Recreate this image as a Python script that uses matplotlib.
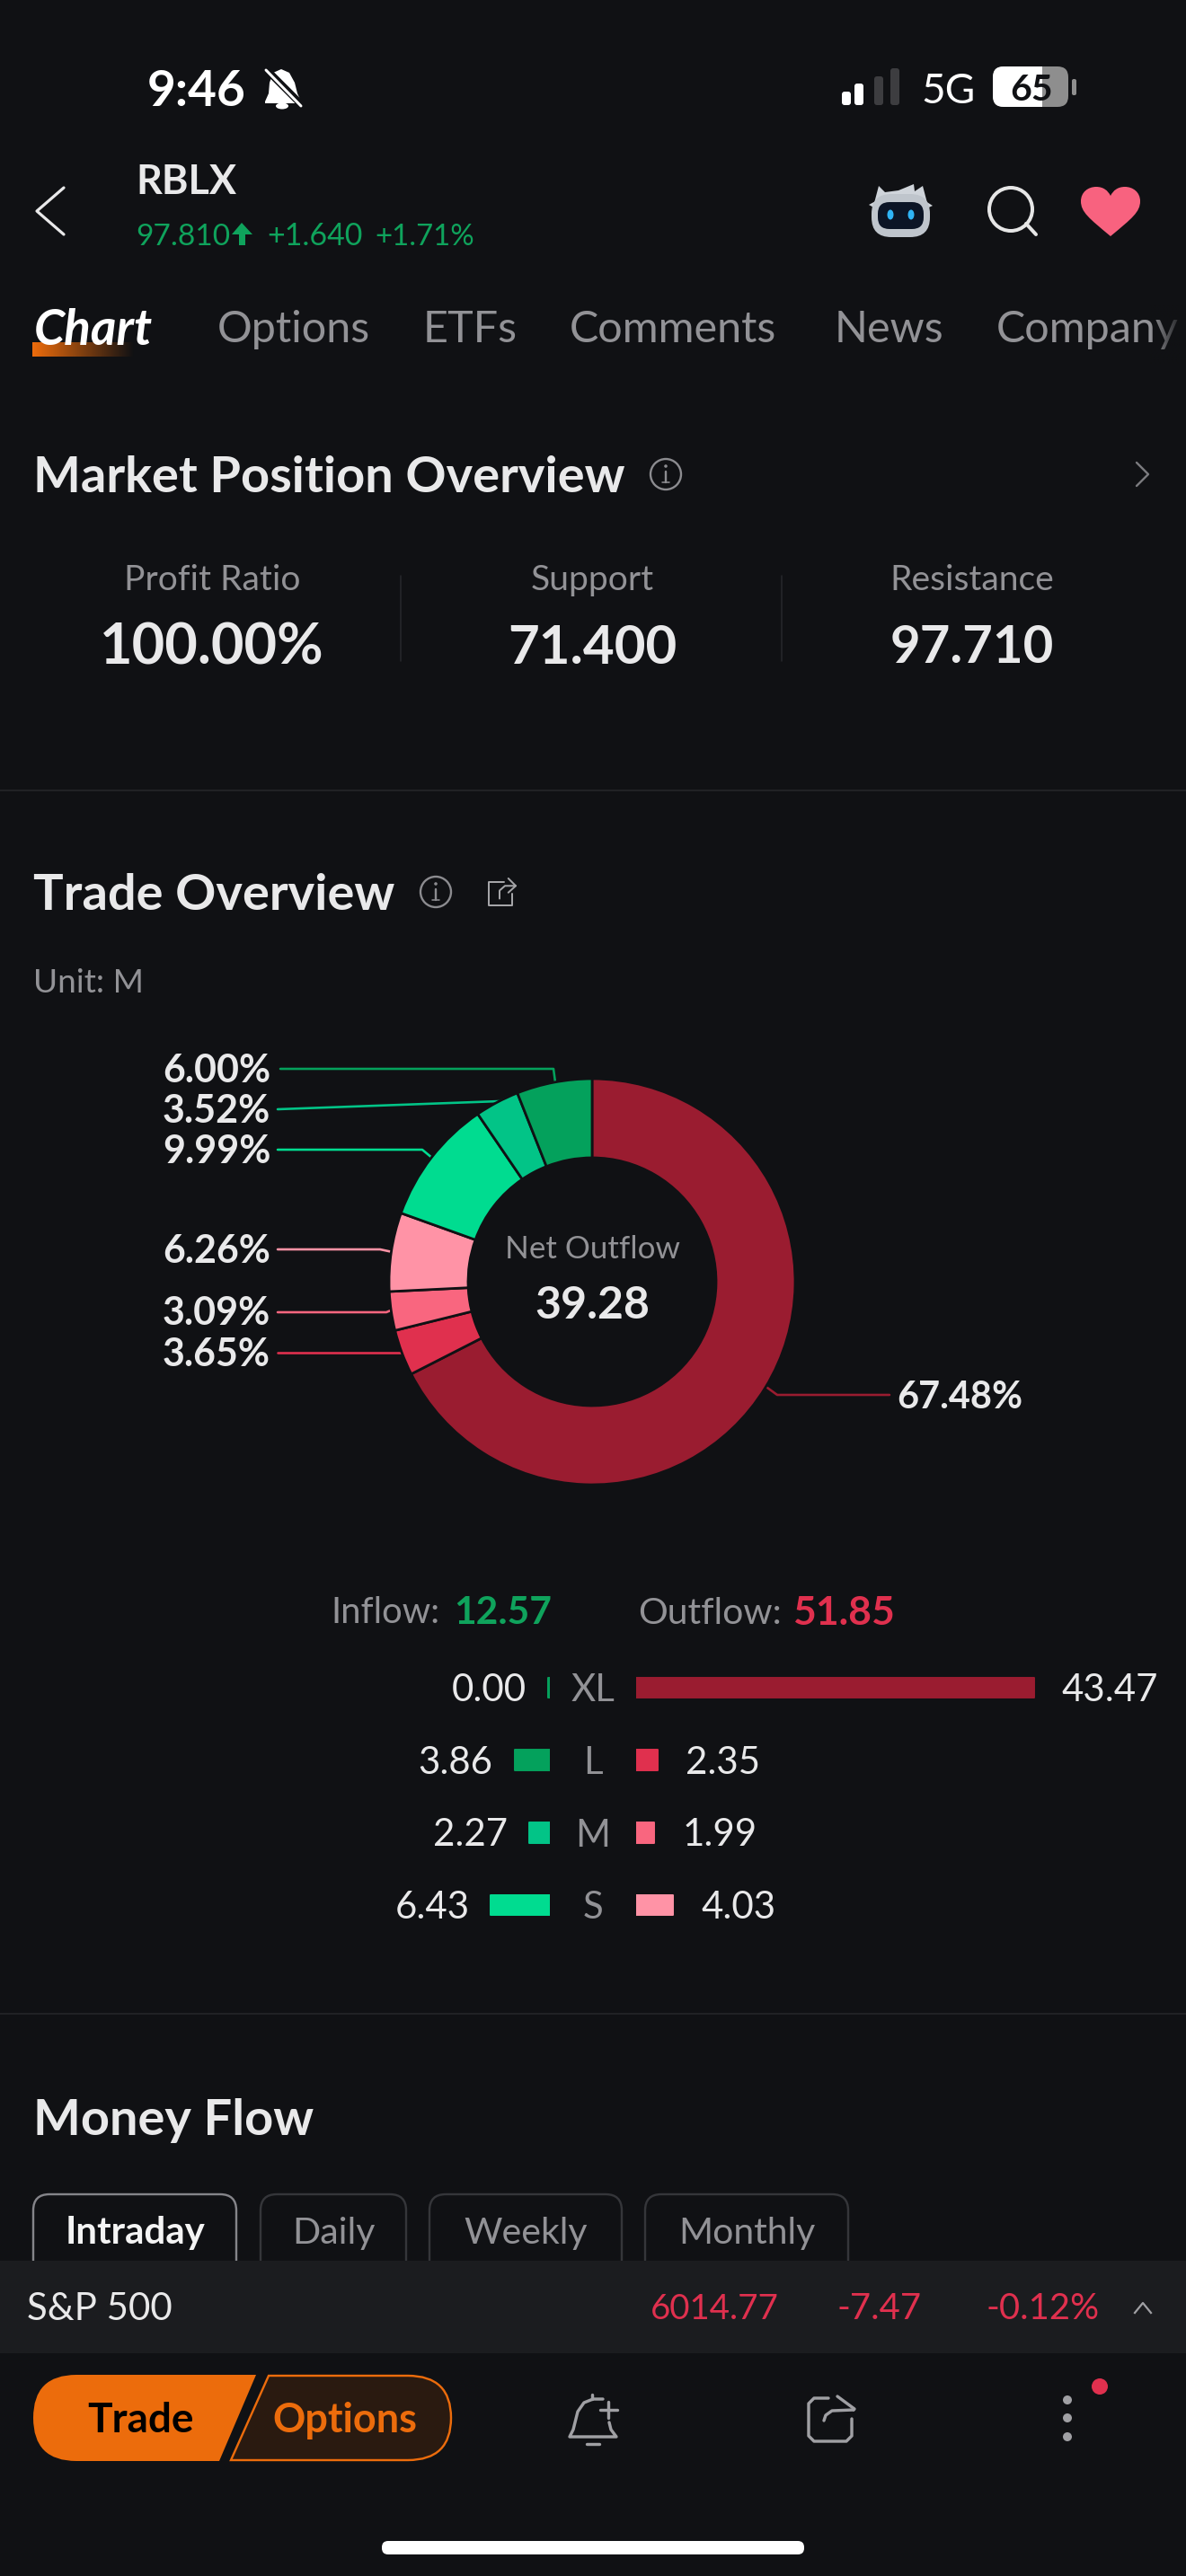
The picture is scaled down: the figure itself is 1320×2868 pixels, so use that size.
#!/usr/bin/env python
#
import numpy as np
import matplotlib
matplotlib.use('Agg')
import matplotlib.pyplot as plt
from matplotlib.patches import Circle, Ellipse, FancyBboxPatch, Polygon, PathPatch, Rectangle
from matplotlib.path import Path
from matplotlib.colors import to_rgb

plt.rcParams['font.family'] = ['Lato', 'DejaVu Sans']

W, H = 1320, 2868
BG = '#101114'
WHITE = '#e9e9ea'
GRAY = '#929296'
GREEN = '#0fa35c'
RED = '#e0304e'
ORANGE = '#ec6c0c'

#
# data
pie_pct = [67.48, 3.65, 3.09, 6.26, 9.99, 3.52, 6.00]
pie_labels = ['67.48%', '3.65%', '3.09%', '6.26%', '9.99%', '3.52%', '6.00%']
pie_colors = ['#9a1c30', '#e0304e', '#f9667f', '#ff93a6', '#00dc90', '#02c487', '#04a15c']
net_outflow = '39.28'
inflow_total = '12.57'
outflow_total = '51.85'
sizes = ['XL', 'L', 'M', 'S']
inflow = [0.00, 3.86, 2.27, 6.43]
outflow = [43.47, 2.35, 1.99, 4.03]
inflow_colors = ['#04a15c', '#04a15c', '#02c487', '#00dc90']
outflow_colors = ['#9a1c30', '#e0304e', '#f9667f', '#ff93a6']
kpi_names = ['Profit Ratio', 'Support', 'Resistance']
kpi_values = ['100.00%', '71.400', '97.710']
tabs = ['Options', 'ETFs', 'Comments', 'News', 'Company']
flow_tabs = ['Intraday', 'Daily', 'Weekly', 'Monthly']

fig = plt.figure(figsize=(W/100.0, H/100.0), dpi=100, facecolor=BG)
ax = fig.add_axes([0, 0, 1, 1])
ax.set_xlim(0, W)
ax.set_ylim(H, 0)
ax.axis('off')


def px_axes(x0, y0, x1, y1):
    a = fig.add_axes([x0/W, 1-y1/H, (x1-x0)/W, (y1-y0)/H])
    a.axis('off')
    return a


def put(x, y, s, size, color=WHITE, ha='left', weight='normal', style='normal', zorder=5):
    # y is the middle of the capitals, size is in pixels
    return ax.text(x, y+0.36*size, s, fontsize=size*0.72, color=color, ha=ha, va='baseline',
                   fontweight=weight, fontstyle=style, zorder=zorder)


def line(xs, ys, color, lw=2.0, zorder=3):
    ax.plot(xs, ys, color=color, lw=lw*0.72, solid_capstyle='round', solid_joinstyle='round', zorder=zorder)


def rbox(x0, y0, x1, y1, r, fc, ec='none', lw=0, zorder=2):
    p = FancyBboxPatch((x0+r, y0+r), x1-x0-2*r, y1-y0-2*r, boxstyle='round,pad=%g'%r,
                       fc=fc, ec=ec, lw=lw*0.72, zorder=zorder)
    ax.add_patch(p)
    return p


def fade(x0, x1, y0, y1, color, a0, a1, zorder=6):
    img = np.zeros((1, 64, 4))
    img[..., :3] = to_rgb(color)
    img[..., 3] = np.linspace(a0, a1, 64)
    ax.imshow(img, extent=[x0, x1, y1, y0], aspect='auto', zorder=zorder)
    ax.set_xlim(0, W)
    ax.set_ylim(H, 0)


def info_icon(x, y):
    c = '#8c8c90'
    ax.add_patch(Circle((x, y), 17, fc='none', ec=c, lw=1.7, zorder=3))
    line([x, x], [y-3, y+9], c, 2.4)
    line([x-4, x+4], [y+9, y+9], c, 1.6)
    ax.add_patch(Circle((x, y-9), 1.8, fc=c, ec='none', zorder=3))


def share_small(x, y, s, color, lw):
    line([x+0.1*s, x-s, x-s, x+s*0.75, x+s*0.75], [y-0.75*s, y-0.75*s, y+s, y+s, y+0.1*s], color, lw)
    line([x-0.2*s, x-0.2*s, x+0.2*s, x+s], [y+0.5*s, y-0.1*s, y-0.45*s, y-0.45*s], color, lw)
    line([x+0.45*s, x+s, x+0.45*s], [y-s, y-0.45*s, y+0.05*s], color, lw)


#
# status bar
put(164, 98, '9:46', 55, '#ffffff', weight='bold')
ax.add_patch(Polygon([(313, 77), (304, 81), (300, 92), (299, 104), (295, 113), (295, 115), (335, 115), (335, 113),
                      (331, 104), (328, 92), (322, 81)], fc='#ffffff', ec='none', zorder=3))
ax.add_patch(Ellipse((314, 118), 14, 7, fc='#ffffff', ec='none', zorder=3))
line([293, 338], [74, 119], BG, 8, zorder=4)
line([296, 335], [78, 118], '#ffffff', 3, zorder=5)
for x0, y0, c in [(937, 102, '#ffffff'), (951, 93, '#ffffff'), (973, 85, '#3d3d40'), (991, 76, '#3d3d40')]:
    rbox(x0, y0, x0+10, 117, 3, c, zorder=3)
put(1025, 98, '5G', 46, '#ffffff')
rbox(1105, 74, 1189, 119, 12, '#8e8e8e', zorder=3)
rbox(1105, 74, 1172, 119, 12, '#ffffff', zorder=3)
ax.add_patch(Rectangle((1150, 74), 10, 45, fc='#ffffff', ec='none', zorder=3))
ax.add_patch(Rectangle((1160, 74), 14, 45, fc='#8e8e8e', ec='none', zorder=3))
rbox(1193, 88, 1198, 106, 2, '#8e8e8e', zorder=3)
put(1148, 97, '65', 41, '#101114', ha='center', weight='bold')

#
# header
line([71, 41, 71], [209, 235, 261], WHITE, 3.2)
put(151, 200, 'RBLX', 45, WHITE, weight='bold')
put(151, 261, '97.810', 33.5, GREEN)
ax.add_patch(Polygon([(258, 261), (269, 248), (281, 261), (273, 261), (273, 273), (266, 273), (266, 261)],
                     fc=GREEN, ec='none', zorder=3))
put(297, 261, '+1.640', 34, GREEN)
put(417, 261, '+1.71%', 33, GREEN)

#
# robot
ax.add_patch(Polygon([(973, 226), (978, 207), (985, 214), (1000, 212), (1017, 205), (1018, 213), (1027, 207),
                      (1032, 226)], fc='#cfd4da', ec='none', zorder=3))
ax.add_patch(Polygon([(967, 228), (978, 222), (978, 234)], fc='#cfd4da', ec='none', zorder=3))
ax.add_patch(Polygon([(1038, 229), (1027, 222), (1027, 234)], fc='#cfd4da', ec='none', zorder=3))
rbox(970, 216, 1035, 264, 22, '#bfc5cc', zorder=3)
rbox(977, 225, 1028, 255, 13, '#0c1526', zorder=4)
ax.add_patch(Ellipse((991, 239), 7, 11, fc='#2fb4f6', ec='none', zorder=5))
ax.add_patch(Ellipse((1014, 239), 7, 11, fc='#2fb4f6', ec='none', zorder=5))

#
# search, heart
ax.add_patch(Circle((1125, 233), 24, fc='none', ec='#e6e6e6', lw=4*0.72, zorder=3))
line([1142, 1153], [249, 261], '#e6e6e6', 4)
heart = Path([(1236, 263),
              (1212, 243), (1203, 236), (1203, 224),
              (1203, 214), (1211, 208), (1220, 208),
              (1228, 208), (1233, 212), (1236, 218),
              (1239, 212), (1244, 208), (1252, 208),
              (1261, 208), (1269, 214), (1269, 224),
              (1269, 236), (1260, 243), (1236, 263)],
             [Path.MOVETO] + [Path.CURVE4]*18)
ax.add_patch(PathPatch(heart, fc='#f8627f', ec='none', zorder=3))

#
# tabs
fade(36, 150, 381, 397, ORANGE, 1.0, 0.0, zorder=2)
put(38, 364, 'Chart', 55, '#ffffff', weight='bold', style='italic')
for name, x in zip(tabs, [242, 471, 634, 929, 1109]):
    put(x, 364, name, 48.5, GRAY)
fade(1280, 1320, 340, 405, BG, 0.0, 1.0)

#
# market position overview
put(37, 528, 'Market Position Overview', 56, WHITE, weight='bold')
info_icon(741, 528)
line([1265, 1278, 1265], [515, 528, 541], '#7b7b7f', 2.4)
for name, value, x, vsize in zip(kpi_names, kpi_values, [236, 659, 1082], [63, 60, 58]):
    put(x, 643, name, 39, GRAY, ha='center')
    put(x, 717, value, vsize, WHITE, ha='center', weight='bold')
for x in [446, 870]:
    line([x, x], [641, 736], '#26272b', 1.6)
line([0, W], [880, 880], '#232428', 1.8)

#
# trade overview
put(37, 993, 'Trade Overview', 56, WHITE, weight='bold')
info_icon(485, 993)
share_small(559, 993, 15, '#a5a5a8', 2.0)
put(37, 1092, 'Unit: M', 37, GRAY)

#
# donut
ax_pie = px_axes(659-226, 1427-226, 659+226, 1427+226)
ax_pie.pie(pie_pct, colors=pie_colors, startangle=90, counterclock=False, radius=1.0,
           wedgeprops=dict(width=1-138.0/226, edgecolor=BG, linewidth=2.0))
ax_pie.set_xlim(-1, 1)
ax_pie.set_ylim(-1, 1)
ax_pie.set_aspect('auto')

leaders = {
    '6.00%': ([312, 616, 618], [1190, 1190, 1205], 181, 1190),
    '3.52%': ([309, 556, 577], [1235, 1226, 1217], 181, 1235),
    '9.99%': ([309, 470, 482], [1280, 1280, 1290], 181, 1280),
    '6.26%': ([309, 423, 437], [1391, 1391, 1394], 181, 1391),
    '3.09%': ([309, 430, 437], [1461, 1461, 1458], 181, 1460),
    '3.65%': ([309, 449], [1506, 1506], 181, 1506),
    '67.48%': ([854, 865, 990], [1545, 1553, 1553], 998, 1553),
}
for label, color in zip(pie_labels, pie_colors):
    xs, ys, tx, ty = leaders[label]
    line(xs, ys, color, 2.6)
    put(tx, ty, label, 41.5 if label == '67.48%' else 43, WHITE, weight='bold')
put(659, 1388, 'Net Outflow', 35, GRAY, ha='center')
put(659, 1450, net_outflow, 50, WHITE, ha='center', weight='bold')

#
# inflow / outflow totals
put(368, 1793, 'Inflow:', 40, GRAY)
put(505, 1793, inflow_total, 42.5, GREEN, weight='bold')
put(710, 1793, 'Outflow:', 41, GRAY)
put(882, 1793, outflow_total, 44.5, RED, weight='bold')

#
# bars, 10.19 pixels per unit on both sides
row_h = 80.7
row_top = 1879-row_h/2
row_bottom = 2121+row_h/2
px_per_unit = 10.19
y_pos = np.arange(len(sizes))

ax_in = px_axes(0, row_top, 612, row_bottom)
ax_in.set_xlim(612/px_per_unit, 0)
ax_in.set_ylim(len(sizes)-0.5, -0.5)
bars_in = ax_in.barh(y_pos, np.maximum(inflow, 0.2), height=0.28, color=inflow_colors, edgecolor=inflow_colors, linewidth=1.4)

ax_out = px_axes(708, row_top, W, row_bottom)
ax_out.set_xlim(0, (W-708)/px_per_unit)
ax_out.set_ylim(len(sizes)-0.5, -0.5)
bars_out = ax_out.barh(y_pos, outflow, height=0.28, color=outflow_colors, edgecolor=outflow_colors, linewidth=1.4)
for p in list(bars_in)+list(bars_out):
    p.set_joinstyle('round')

value_px = 42
for i in y_pos:
    ax_in.annotate('%.2f'%inflow[i], (max(inflow[i], 0.2), i), xytext=(-24*0.72, -0.36*value_px*0.72),
                   textcoords='offset points', ha='right', va='baseline', fontsize=value_px*0.72, color=WHITE)
    ax_out.annotate('%.2f'%outflow[i], (outflow[i], i), xytext=(31*0.72, -0.36*value_px*0.72),
                    textcoords='offset points', ha='left', va='baseline', fontsize=value_px*0.72, color=WHITE)
    put(660, row_top+row_h*(i+0.5), sizes[i], value_px, GRAY, ha='center')

line([0, W], [2242, 2242], '#232428', 1.8)

#
# money flow
put(37, 2357, 'Money Flow', 56, WHITE, weight='bold')
buttons = [(37, 263), (290, 452), (478, 692), (718, 944)]
for k in range(len(flow_tabs)):
    x0, x1 = buttons[k]
    rbox(x0, 2443, x1, 2535, 18, BG, ec='#85858a' if k == 0 else '#35363a', lw=2.4)
    if k == 0:
        put((x0+x1)/2.0, 2483, flow_tabs[k], 42, '#f4f4f4', ha='center', weight='bold')
    else:
        put((x0+x1)/2.0, 2483, flow_tabs[k], 41, GRAY, ha='center')

#
# index strip
rbox(-30, 2517, W+30, 2700, 24, '#1b1c1f', zorder=6)
ax.add_patch(Rectangle((0, 2620), W, 248, fc=BG, ec='none', zorder=7))
put(30, 2568, 'S&P 500', 42, WHITE, zorder=8)
put(724, 2568, '6014.77', 38.5, RED, zorder=8)
put(932, 2568, '-7.47', 40, RED, zorder=8)
put(1097, 2568, '-0.12%', 40, RED, zorder=8)
ax.plot([1263, 1272, 1281], [2575, 2564, 2575], color='#a0a0a4', lw=1.6, zorder=8)

#
# bottom bar
trade = Path([(285, 2644), (85, 2644), (37, 2644), (37, 2692), (37, 2740), (85, 2740), (244, 2740), (285, 2644)],
             [Path.MOVETO, Path.LINETO, Path.CURVE3, Path.CURVE3, Path.CURVE3, Path.CURVE3, Path.LINETO, Path.CLOSEPOLY])
ax.add_patch(PathPatch(trade, fc=ORANGE, ec='none', zorder=8))
options = Path([(299, 2645), (454, 2645), (502, 2645), (502, 2692), (502, 2739), (454, 2739), (257, 2739), (299, 2645)],
               [Path.MOVETO, Path.LINETO, Path.CURVE3, Path.CURVE3, Path.CURVE3, Path.CURVE3, Path.LINETO, Path.CLOSEPOLY])
ax.add_patch(PathPatch(options, fc='#2a1a10', ec=ORANGE, lw=2.4*0.72, zorder=8))
ax.text(156, 2692+16, 'Trade', fontsize=46*0.72, color='#000000', ha='center', va='baseline', fontweight='bold', zorder=9)
ax.text(384, 2692+16, 'Options', fontsize=45*0.72, color=ORANGE, ha='center', va='baseline', fontweight='bold', zorder=9)

# bell
c = '#a0a0a4'
line([671, 660, 650, 643, 640, 638, 634, 686, 680, 678], [2671, 2671, 2675, 2685, 2697, 2705, 2713, 2713, 2705, 2697], c, 3.4, zorder=9)
line([659, 659], [2666, 2671], c, 3.4, zorder=9)
line([677, 677], [2674, 2692], c, 3.4, zorder=9)
line([668, 687], [2683, 2683], c, 3.4, zorder=9)
line([653, 667], [2721, 2721], c, 3.4, zorder=9)
# share
line([922, 906, 900, 900, 906, 942, 948, 948], [2670, 2670, 2676, 2712, 2718, 2718, 2712, 2693], c, 3.4, zorder=9)
line([917, 919, 926, 950], [2695, 2689, 2684, 2683], c, 3.4, zorder=9)
line([932, 951, 950], [2668, 2682, 2683], c, 3.4, zorder=9)
# more
for y in [2672, 2692, 2713]:
    ax.add_patch(Circle((1188, y), 5, fc='#a0a0a4', ec='none', zorder=9))
ax.add_patch(Circle((1224, 2657), 9, fc=RED, ec='none', zorder=9))
# home bar
rbox(425, 2829, 895, 2844, 7, '#ffffff', zorder=9)

plt.savefig('out.png', dpi=100, facecolor=BG)
